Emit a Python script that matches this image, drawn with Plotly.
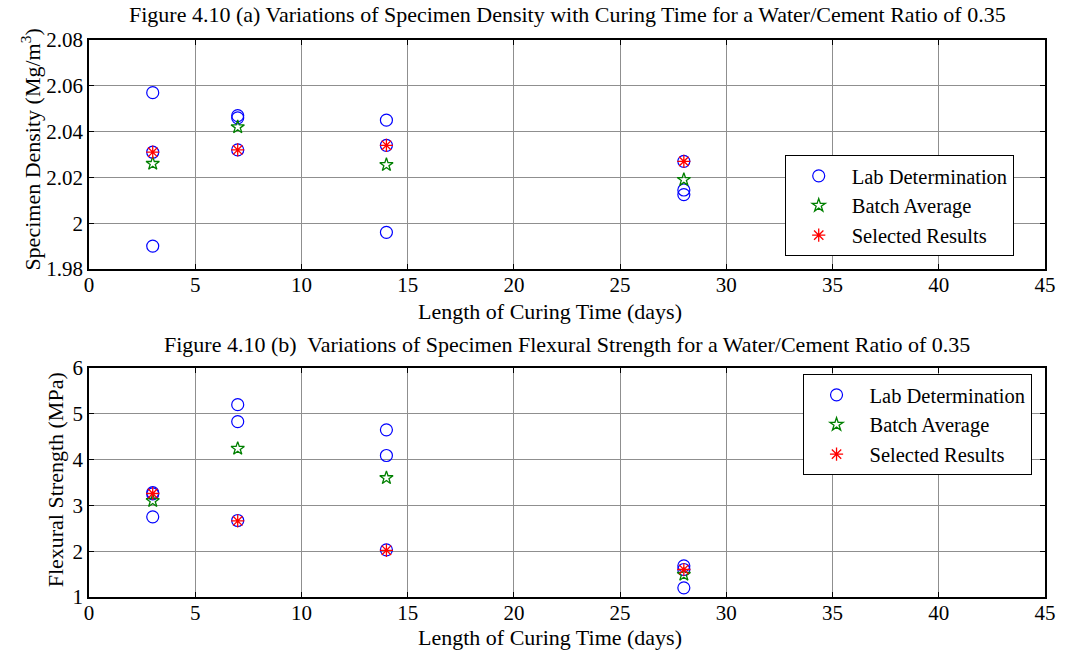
import plotly.graph_objects as go

# ---- data ----
days = [3, 7, 14, 28]

# (a) specimen density, three lab determinations per curing time
dens_lab_days = [3, 3, 3, 7, 7, 7, 14, 14, 14, 28, 28, 28]
dens_lab = [2.057, 2.031, 1.990, 2.047, 2.046, 2.032, 2.045, 2.034, 1.996, 2.027, 2.0145, 2.0125]
dens_avg = [2.026, 2.042, 2.0255, 2.019]
dens_sel = [2.031, 2.032, 2.034, 2.027]

# (b) flexural strength
flex_lab_days = [3, 3, 3, 7, 7, 7, 14, 14, 14, 28, 28, 28]
flex_lab = [3.28, 3.25, 2.75, 5.20, 4.83, 2.67, 4.65, 4.09, 2.03, 1.68, 1.60, 1.20]
flex_avg = [3.10, 4.24, 3.60, 1.49]
flex_sel = [3.26, 2.66, 2.02, 1.60]

x_ticks = [0, 5, 10, 15, 20, 25, 30, 35, 40, 45]
dens_ticks = [1.98, 2.00, 2.02, 2.04, 2.06, 2.08]
dens_ticklabels = ["1.98", "2", "2.02", "2.04", "2.06", "2.08"]
flex_ticks = [1, 2, 3, 4, 5, 6]

title_a = "Figure 4.10 (a) Variations of Specimen Density with Curing Time for a Water/Cement Ratio of 0.35"
title_b = "Figure 4.10 (b)  Variations of Specimen Flexural Strength for a Water/Cement Ratio of 0.35"
x_label = "Length of Curing Time (days)"
y_label_a = "Specimen Density (Mg/m<sup>3</sup>)"
y_label_b = "Flexural Strength (MPa)"
names = ["Lab Determination", "Batch Average", "Selected Results"]

FONT = "Liberation Serif"

# plot-area geometry (pixels)
L, R, T, B = 89, 1055, 40, 597
W, H = R - L, B - T

def px(xp):
    return (xp - L) / W

def py(yp):
    return (B - yp) / H

fig = go.Figure()

def add_panel(xa, ya, legend, lab_x, lab_y, avg_y, sel_y):
    fig.add_trace(go.Scatter(x=lab_x, y=lab_y, mode="markers", name=names[0],
                             xaxis=xa, yaxis=ya, legend=legend,
                             marker=dict(symbol="circle-open", size=12, color="#0000ff",
                                         line=dict(width=1.2))))
    fig.add_trace(go.Scatter(x=days, y=avg_y, mode="markers", name=names[1],
                             xaxis=xa, yaxis=ya, legend=legend,
                             marker=dict(symbol="star-open", size=10, color="#008000",
                                         line=dict(width=1.3))))
    fig.add_trace(go.Scatter(x=days, y=sel_y, mode="markers", name=names[2],
                             xaxis=xa, yaxis=ya, legend=legend,
                             marker=dict(symbol="asterisk-open", size=11, color="#ff0000",
                                         line=dict(width=1.3))))

add_panel("x", "y", "legend", dens_lab_days, dens_lab, dens_avg, dens_sel)
add_panel("x2", "y2", "legend2", flex_lab_days, flex_lab, flex_avg, flex_sel)

axis_common = dict(
    showline=True, linecolor="black", linewidth=1.6, mirror="ticks",
    ticks="inside", ticklen=5, tickcolor="black", tickwidth=1,
    showgrid=True, gridcolor="#8f8f8f", gridwidth=1,
    zeroline=False,
    tickfont=dict(family=FONT, size=21, color="black"),
)

fig.update_layout(
    width=1068, height=653,
    margin=dict(l=L, r=1068 - R, t=T, b=653 - B),
    paper_bgcolor="white", plot_bgcolor="white",
    font=dict(family=FONT, size=21, color="black"),
    xaxis=dict(axis_common, domain=[0, 1], anchor="y", range=[0, 45], tickvals=x_ticks,
               ticklabelstandoff=-4),
    yaxis=dict(axis_common, domain=[py(269), 1], anchor="x", range=[1.98, 2.08],
               tickvals=dens_ticks, ticktext=dens_ticklabels),
    xaxis2=dict(axis_common, domain=[0, 1], anchor="y2", range=[0, 45], tickvals=x_ticks,
                ticklabelstandoff=-4),
    yaxis2=dict(axis_common, domain=[0, py(368)], anchor="x2", range=[1, 6],
                tickvals=flex_ticks),
    legend=dict(x=px(792), y=py(155), xanchor="left", yanchor="top",
                bgcolor="white", bordercolor="black", borderwidth=1,
                font=dict(family=FONT, size=20.5), itemwidth=56),
    legend2=dict(x=px(810), y=py(374), xanchor="left", yanchor="top",
                 bgcolor="white", bordercolor="black", borderwidth=1,
                 font=dict(family=FONT, size=20.5), itemwidth=56),
    annotations=[
        dict(text=title_a, x=px(572), y=py(15), xref="paper", yref="paper",
             showarrow=False, font=dict(family=FONT, size=22), yanchor="middle"),
        dict(text=title_b, x=px(572), y=py(345), xref="paper", yref="paper",
             showarrow=False, font=dict(family=FONT, size=22), yanchor="middle"),
        dict(text=x_label, x=px(555), y=py(311), xref="paper", yref="paper",
             showarrow=False, font=dict(family=FONT, size=22), yanchor="middle"),
        dict(text=x_label, x=px(555), y=py(637), xref="paper", yref="paper",
             showarrow=False, font=dict(family=FONT, size=22), yanchor="middle"),
        dict(text=y_label_a, x=px(30), y=py(150), xref="paper", yref="paper",
             showarrow=False, font=dict(family=FONT, size=22), textangle=-90,
             xanchor="center", yanchor="middle"),
        dict(text=y_label_b, x=px(55), y=py(480), xref="paper", yref="paper",
             showarrow=False, font=dict(family=FONT, size=22), textangle=-90,
             xanchor="center", yanchor="middle"),
    ],
)

fig.write_html("out.html")
